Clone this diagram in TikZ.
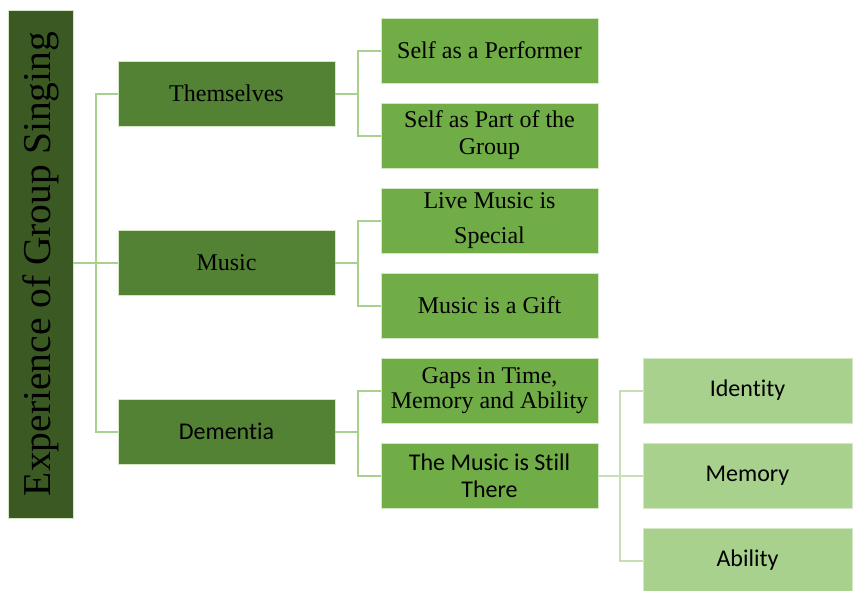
\documentclass[tikz,border=0pt]{standalone}
\usepackage{fontspec}
\setmainfont{Liberation Serif}
\newfontfamily\calibri[Ligatures={NoCommon}]{Carlito}
\usetikzlibrary{positioning}

\definecolor{rootgreen}{HTML}{3B5A23}
\definecolor{midgreen}{HTML}{548235}
\definecolor{leafgreen}{HTML}{70AD47}
\definecolor{palegreen}{HTML}{A9D18E}
\definecolor{paleline}{HTML}{C5E0B4}

\begin{document}
\begin{tikzpicture}[
x=1pt, y=-1pt,
box/.style={rectangle,
  draw=palegreen!50!white,
  line width=0.6pt,
  inner sep=0pt,
  outer sep=0pt,
  align=center,
  font=\fontsize{24}{27}\selectfont
},
rootbox/.style={box, fill=rootgreen,
  minimum width=65pt, minimum height=508pt,
  font=\fontsize{39.5}{42}\selectfont},
topicbox/.style={box, fill=midgreen, minimum width=217pt, minimum height=65pt},
subbox/.style={box, fill=leafgreen, minimum width=217pt, minimum height=65pt},
leafbox/.style={box, fill=palegreen, minimum width=209pt, minimum height=65pt,
  font=\calibri\fontsize{24}{27}\selectfont},
link/.style={draw=palegreen, line width=2pt},
leaflink/.style={draw=paleline, line width=2pt}
]
\useasboundingbox (0,0) rectangle (853,590);

% root
\node[rootbox] (root) at (40.5,264)
    {\rotatebox{90}{Experience of Group Singing}};

% first level
\node[topicbox] (them) at (226.5,93.5)
    {Themselves};
\node[topicbox, below=104pt of them] (mus)
    {Music};
\node[topicbox, below=104pt of mus] (dem)
    {\calibri Dementia};

% second level
\node[subbox] (perf) at (489.5,50.5)
    {Self as a Performer};
\node[subbox, below=20pt of perf] (part)
    {Self as Part of the\\Group};
\node[subbox, below=20pt of part] (live)
    {Live Music is\\[8pt]Special};
\node[subbox, below=20pt of live] (gift)
    {Music is a Gift};
\node[subbox, below=20pt of gift] (gaps)
    {Gaps in Time,\\[-2pt]Memory and Ability};
\node[subbox, below=20pt of gaps, font=\calibri\fontsize{24}{27}\selectfont] (still)
    {The Music is Still\\There};

% third level
\node[leafbox, right=45pt of still] (mem)
    {Memory};
\node[leafbox, above=20pt of mem] (ident)
    {Identity};
\node[leafbox, below=20pt of mem] (abil)
    {Ability};

% connectors
\draw[link] (root.east |- mus) -- (mus.west);
\draw[link] (them.west) -- ++(-22,0) |- (dem.west);

\draw[link] (them.east) -- ++(23,0);
\draw[link] (perf.west) -- ++(-23,0) |- (part.west);
\draw[link] (mus.east) -- ++(23,0);
\draw[link] (live.west) -- ++(-23,0) |- (gift.west);
\draw[link] (dem.east) -- ++(23,0);
\draw[link] (gaps.west) -- ++(-23,0) |- (still.west);

\draw[leaflink] (still.east) -- (mem.west);
\draw[leaflink] (ident.west) -- ++(-23,0) |- (abil.west);
\end{tikzpicture}
\end{document}
